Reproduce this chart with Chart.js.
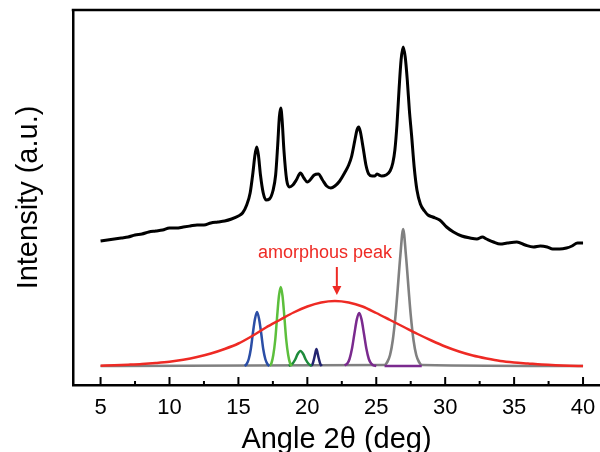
<!DOCTYPE html>
<html>
<head>
<meta charset="utf-8">
<script src="https://cdn.jsdelivr.net/npm/chart.js@4/dist/chart.umd.min.js"></script>
<style>
  html, body { margin: 0; padding: 0; background: #fff; }
  #wrap { width: 600px; height: 452px; position: relative; }
</style>
</head>
<body>
<div id="wrap"><canvas id="xrdChart"></canvas></div>
<script>
// measured pattern
const xrdAngle = [5.0, 5.5, 6.0, 6.5, 7.0, 7.5, 8.0, 8.5, 9.0, 9.5, 10.0, 10.5, 11.0, 11.5, 12.0, 12.5, 13.0, 13.5, 14.0, 14.5,
  15.0, 15.3, 15.6, 15.85, 16.05, 16.2, 16.33, 16.45, 16.6, 16.8, 17.0, 17.25, 17.5, 17.7, 17.85, 17.97, 18.07, 18.17, 18.3, 18.5,
  18.7, 18.95, 19.2, 19.5, 19.75, 20.0, 20.2, 20.5, 20.8, 21.1, 21.4, 21.7, 22.0, 22.35, 22.7, 23.0, 23.2, 23.45, 23.6, 23.73,
  23.85, 24.05, 24.25, 24.45, 24.7, 24.9, 25.05, 25.2, 25.4, 25.7, 26.0, 26.2, 26.35, 26.5, 26.65, 26.8, 26.95, 27.1, 27.25, 27.4,
  27.56, 27.75, 27.95, 28.2, 28.5, 28.75, 29.1, 29.6, 30.1, 30.6, 31.2, 31.8, 32.3, 32.7, 33.0, 33.5, 34.0, 34.5, 35.2, 35.8,
  36.4, 36.9, 37.4, 37.8, 38.3, 38.8, 39.2, 39.6, 40.0];
const xrdIntensity = [144, 145, 146, 147, 148, 150, 151, 153, 154, 155, 157, 157, 158, 159, 160, 160, 162, 163, 164, 166,
  169, 172, 180, 192, 212, 230, 238, 230, 210, 192, 185, 186, 194, 210, 240, 268, 277, 265, 235, 205,
  198, 200, 205, 212, 207, 203, 205, 210, 211, 205, 199, 197, 199, 204, 212, 220, 228, 245, 255, 258,
  253, 237, 220, 211, 209, 209, 211, 210, 209, 210, 214, 222, 235, 260, 295, 325, 338, 328, 305, 275,
  250, 218, 195, 181, 174, 170, 168, 165, 158, 153, 149, 147, 146, 148, 146, 143, 141, 142, 143, 140,
  138, 139, 138, 136, 136, 137, 139, 142, 142];

// fitted components
const amorphAngle = [5, 6, 7, 8, 9, 10, 11, 12, 13, 14, 15, 16, 17, 18, 19, 20, 21, 22, 23, 24, 25, 26, 27, 28, 29, 30, 31, 32, 33, 34, 35, 36, 37, 38, 39, 40];
const amorphIntensity = [19.3, 19.7, 20.3, 21, 22, 23.3, 25.3, 28, 31.5, 36, 41.5, 49, 57.5, 65, 72.5, 78.5, 82.5, 84, 82.5, 78.5,
  72, 65, 58, 51, 44.5, 38.5, 33.5, 29.5, 26.5, 24, 22.5, 21.5, 20.5, 19.8, 19.3, 19];

const peak1Angle = [15.45, 15.6, 15.75, 15.9, 16.05, 16.2, 16.35, 16.5, 16.65, 16.8, 16.95, 17.1, 17.25];
const peak1Intensity = [19, 21, 26, 36, 52, 66, 73, 66, 52, 36, 26, 21, 19];

const peak2Angle = [17.27, 17.4, 17.53, 17.67, 17.8, 17.94, 18.07, 18.2, 18.34, 18.47, 18.61, 18.74, 18.88];
const peak2Intensity = [19, 22, 30, 45, 67, 89, 98, 89, 67, 45, 30, 22, 19];

const peak3Angle = [18.65, 18.9, 19.1, 19.3, 19.5, 19.7, 19.9, 20.1, 20.3];
const peak3Intensity = [19, 21, 25, 31, 34, 31, 25, 21, 19];

const peak4Angle = [20.25, 20.38, 20.5, 20.58, 20.66, 20.74, 20.82, 20.94, 21.05];
const peak4Intensity = [19, 21, 27, 32, 36, 32, 27, 21, 19];

const peak5Angle = [22.7, 22.9, 23.06, 23.24, 23.41, 23.59, 23.76, 23.93, 24.11, 24.28, 24.46, 24.63, 24.8, 25.0, 25.3, 25.6, 28.3];
const peak5Intensity = [19.6, 21.4, 26, 36.5, 51, 65.6, 72, 65.6, 51, 36.5, 26, 21.4, 19.6, 19, null, 19, 19];

const peak6Angle = [5, 25.6, 25.8, 26.0, 26.2, 26.4, 26.55, 26.75, 26.95, 27.15, 27.35, 27.5, 27.7, 27.9, 28.1, 28.3, 40];
const peak6Intensity = [19, 20, 23, 30, 45, 70, 95, 130, 156, 130, 95, 70, 45, 30, 23, 20, 19];

const xMajorTicks = [5, 10, 15, 20, 25, 30, 35, 40];
const xMinorTicks = [7.5, 12.5, 17.5, 22.5, 27.5, 32.5, 37.5];

const labelText = "amorphous peak";
const labelAngle = 21.28, labelLevel = 132;
const arrowAngle = 22.14, arrowFrom = 118, arrowTo = 90;

const FONT = "'Liberation Sans', Arial, Helvetica, sans-serif";

function pts(xs, ys) {
  return xs.map((x, i) => ({ x: x, y: ys[i] }));
}

function line(label, xs, ys, color, width, order) {
  return {
    label: label,
    data: pts(xs, ys),
    borderColor: color,
    borderWidth: width,
    pointRadius: 0,
    fill: false,
    cubicInterpolationMode: "monotone",
    spanGaps: false,
    order: order,
  };
}

// inward ticks + top frame line
const frameTicks = {
  id: "frameTicks",
  afterDraw(chart) {
    const { ctx, chartArea: a, scales: { x } } = chart;
    ctx.save();
    ctx.strokeStyle = "#000";
    ctx.lineWidth = 2.5;
    ctx.beginPath();
    ctx.moveTo(a.left - 1.25, a.top);
    ctx.lineTo(a.right, a.top);
    ctx.stroke();
    ctx.lineWidth = 2;
    ctx.beginPath();
    xMajorTicks.forEach(v => {
      const px = x.getPixelForValue(v);
      ctx.moveTo(px, a.bottom);
      ctx.lineTo(px, a.bottom - 8);
    });
    xMinorTicks.forEach(v => {
      const px = x.getPixelForValue(v);
      ctx.moveTo(px, a.bottom);
      ctx.lineTo(px, a.bottom - 4);
    });
    ctx.stroke();
    ctx.restore();
  },
};

// "amorphous peak" label with arrow
const peakNote = {
  id: "peakNote",
  afterDatasetsDraw(chart) {
    const { ctx, scales: { x, y } } = chart;
    const red = "#ee2a24";
    ctx.save();
    ctx.fillStyle = red;
    ctx.strokeStyle = red;
    ctx.font = "18px " + FONT;
    ctx.textAlign = "center";
    ctx.textBaseline = "middle";
    ctx.fillText(labelText, x.getPixelForValue(labelAngle), y.getPixelForValue(labelLevel));
    const ax = x.getPixelForValue(arrowAngle);
    const y0 = y.getPixelForValue(arrowFrom);
    const y1 = y.getPixelForValue(arrowTo);
    ctx.lineWidth = 2;
    ctx.beginPath();
    ctx.moveTo(ax, y0);
    ctx.lineTo(ax, y1 - 6);
    ctx.stroke();
    ctx.beginPath();
    ctx.moveTo(ax - 4.5, y1 - 9);
    ctx.lineTo(ax + 4.5, y1 - 9);
    ctx.lineTo(ax, y1);
    ctx.closePath();
    ctx.fill();
    ctx.restore();
  },
};

new Chart(document.getElementById("xrdChart"), {
  type: "line",
  data: {
    datasets: [
      line("XRD", xrdAngle, xrdIntensity, "#000000", 3, 0),
      line("amorphous", amorphAngle, amorphIntensity, "#ee2a24", 2.5, 1),
      line("peak 27.0", peak6Angle, peak6Intensity, "#808080", 2.6, 6),
      line("peak 23.8", peak5Angle, peak5Intensity, "#7a2a8e", 2.5, 2),
      line("peak 16.4", peak1Angle, peak1Intensity, "#2b4ea6", 2.5, 3),
      line("peak 18.1", peak2Angle, peak2Intensity, "#5cbf3c", 2.5, 3),
      line("peak 19.5", peak3Angle, peak3Intensity, "#1d8b3b", 2.5, 3),
      line("peak 20.7", peak4Angle, peak4Intensity, "#232470", 2.5, 3),
    ],
  },
  options: {
    responsive: true,
    maintainAspectRatio: false,
    animation: false,
    events: [],
    layout: { padding: { top: 10, right: 0, bottom: 0, left: 0 } },
    plugins: {
      legend: { display: false },
      tooltip: { enabled: false },
    },
    scales: {
      x: {
        type: "linear",
        min: 3,
        max: 41.23,
        afterBuildTicks: s => { s.ticks = xMajorTicks.map(v => ({ value: v })); },
        afterFit: s => { s.height = 67; s.paddingLeft = 0; s.paddingRight = 0; },
        grid: { display: false },
        border: { display: true, color: "#000", width: 2.5 },
        ticks: { color: "#000", font: { family: FONT, size: 22 }, padding: 2, maxRotation: 0 },
        title: {
          display: true,
          text: "Angle 2θ (deg)",
          color: "#000",
          font: { family: FONT, size: 29 },
          padding: { top: 0, bottom: -5 },
        },
      },
      y: {
        min: 0,
        max: 375,
        afterFit: s => { s.width = 73; s.paddingTop = 0; s.paddingBottom = 0; },
        grid: { display: false },
        border: { display: true, color: "#000", width: 2.5 },
        ticks: { display: false },
        title: {
          display: true,
          text: "Intensity (a.u.)",
          color: "#000",
          font: { family: FONT, size: 29 },
          padding: { top: 12, bottom: 0 },
        },
      },
    },
  },
  plugins: [frameTicks, peakNote],
});
</script>
</body>
</html>
